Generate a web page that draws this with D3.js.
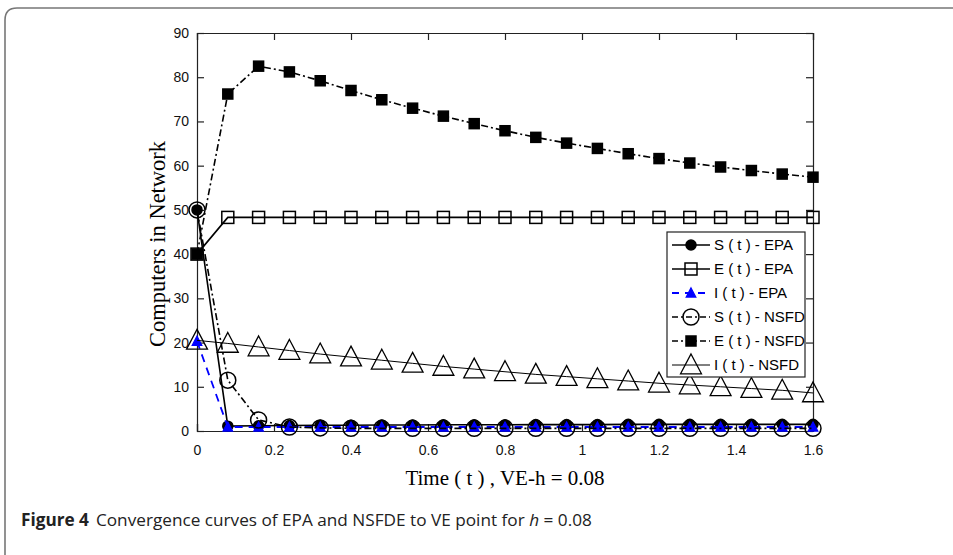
<!DOCTYPE html>
<html>
<head>
<meta charset="utf-8">
<script src="https://cdn.jsdelivr.net/npm/d3@7"></script>
<style>
  body { margin: 0; background: #fff; }
  svg { display: block; }
</style>
</head>
<body>
<svg id="chart" width="953" height="555"></svg>
<script>
'use strict';

// time steps (h = 0.08)
var times = [0, 0.08, 0.16, 0.24, 0.32, 0.40, 0.48, 0.56, 0.64, 0.72, 0.80,
             0.88, 0.96, 1.04, 1.12, 1.20, 1.28, 1.36, 1.44, 1.52, 1.60];

var sEPA  = [50, 1.1, 1.2, 1.25, 1.3, 1.3, 1.35, 1.35, 1.4, 1.4, 1.4,
             1.45, 1.45, 1.45, 1.5, 1.5, 1.5, 1.5, 1.5, 1.5, 1.5];
var eEPA  = [40, 48.3, 48.3, 48.3, 48.3, 48.3, 48.3, 48.3, 48.3, 48.3, 48.3,
             48.3, 48.3, 48.3, 48.3, 48.3, 48.3, 48.3, 48.3, 48.3, 48.3];
var iEPA  = [20.3, 0.9, 0.9, 0.9, 0.9, 0.9, 0.9, 0.9, 0.9, 0.9, 0.9,
             0.9, 0.9, 0.9, 0.9, 0.9, 0.9, 0.9, 0.9, 0.9, 0.9];
var sNSFD = [50, 11.5, 2.5, 0.9, 0.7, 0.6, 0.6, 0.6, 0.6, 0.6, 0.6,
             0.6, 0.6, 0.6, 0.6, 0.6, 0.6, 0.6, 0.6, 0.6, 0.6];
var eNSFD = [40, 76.2, 82.5, 81.2, 79.2, 77, 74.9, 73, 71.2, 69.5, 67.9,
             66.4, 65.1, 63.9, 62.7, 61.6, 60.6, 59.7, 58.9, 58.1, 57.4];
var iNSFD = [20.5, 19.8, 19.0, 18.2, 17.4, 16.7, 16.0, 15.3, 14.6, 14.0, 13.4,
             12.8, 12.3, 11.8, 11.3, 10.8, 10.4, 10.0, 9.6, 9.2, 8.6];

var xTicks = [0, 0.2, 0.4, 0.6, 0.8, 1, 1.2, 1.4, 1.6];
var yTicks = [0, 10, 20, 30, 40, 50, 60, 70, 80, 90];

var seriesNames = ['S ( t ) - EPA', 'E ( t ) - EPA', 'I ( t ) - EPA',
                   'S ( t ) - NSFD', 'E ( t ) - NSFD', 'I ( t ) - NSFD'];

(function(){

var series = [
  {name: seriesNames[0], vals: sEPA,  color: '#000', dash: null,    width: 1.6, marker: 'circle',   fill: '#000', size: 5},
  {name: seriesNames[1], vals: eEPA,  color: '#000', dash: null,    width: 1.6, marker: 'square',   fill: 'none', size: 6},
  {name: seriesNames[2], vals: iEPA,  color: '#0000ff', dash: '8,6', width: 1.8, marker: 'triangle', fill: '#0000ff', size: 5},
  {name: seriesNames[3], vals: sNSFD, color: '#000', dash: '7,3,2,3', width: 1.6, marker: 'circle', fill: 'none', size: 8},
  {name: seriesNames[4], vals: eNSFD, color: '#000', dash: '7,3,2,3', width: 1.6, marker: 'square', fill: '#000', size: 5},
  {name: seriesNames[5], vals: iNSFD, color: '#000', dash: null,    width: 1,   marker: 'triangle', fill: 'none', size: 11}
];

var svg = d3.select('#chart');

// frame round the figure
svg.append('path')
  .attr('d', 'M5,556 L5,20 Q5,8 17,8 L954,8')
  .attr('fill', 'none')
  .attr('stroke', '#777')
  .attr('stroke-width', 1.6);

var pLeft = 197, pRight = 813, pTop = 33, pBottom = 431;

var x = d3.scaleLinear().domain([0, 1.6]).range([pLeft, pRight]);
var y = d3.scaleLinear().domain([0, 90]).range([pBottom, pTop]);

var tickFont = '"Liberation Sans", Arial, sans-serif';

//Axes, MATLAB style ticks pointing inward
var gx = svg.append('g').attr('transform', 'translate(0,' + pBottom + ')')
  .call(d3.axisBottom(x).tickValues(xTicks).tickSize(-7).tickPadding(14)
    .tickFormat(function(d){ return d === 0 ? '0' : d3.format('')(d); }));
var gxTop = svg.append('g').attr('transform', 'translate(0,' + pTop + ')')
  .call(d3.axisTop(x).tickValues(xTicks).tickSize(-7).tickFormat(''));
var gy = svg.append('g').attr('transform', 'translate(' + pLeft + ',0)')
  .call(d3.axisLeft(y).tickValues(yTicks).tickSize(-7).tickPadding(8));
var gyRight = svg.append('g').attr('transform', 'translate(' + pRight + ',0)')
  .call(d3.axisRight(y).tickValues(yTicks).tickSize(-7).tickFormat(''));

[gx, gxTop, gy, gyRight].forEach(function(g){
  g.attr('font-family', tickFont).attr('font-size', 14);
  g.selectAll('.domain').attr('stroke', '#222').attr('stroke-width', 1.2);
  g.selectAll('.tick line').attr('stroke', '#222').attr('stroke-width', 1.2);
  g.selectAll('.tick text').attr('fill', '#111');
});

// axis titles
svg.append('text')
  .attr('x', 505).attr('y', 485)
  .attr('text-anchor', 'middle')
  .style('font-family', '"Liberation Serif", "Times New Roman", serif')
  .style('font-size', '21px')
  .text('Time ( t ) , VE-h = 0.08');

svg.append('text')
  .attr('transform', 'translate(165,244) rotate(-90)')
  .attr('text-anchor', 'middle')
  .style('font-family', '"Liberation Serif", "Times New Roman", serif')
  .style('font-size', '22.5px')
  .text('Computers in Network');

// marker helper
var drawMarker = function(g, kind, cx, cy, s, color, fill){
  if(kind === 'circle'){
    g.append('circle').attr('cx', cx).attr('cy', cy).attr('r', s)
      .attr('fill', fill).attr('stroke', color).attr('stroke-width', 1.5);
  } else if(kind === 'square'){
    g.append('rect').attr('x', cx - s).attr('y', cy - s)
      .attr('width', 2 * s).attr('height', 2 * s)
      .attr('fill', fill).attr('stroke', color).attr('stroke-width', 1.5);
  } else {
    g.append('path')
      .attr('d', 'M' + cx + ',' + (cy - s) + ' L' + (cx + s * 0.95) + ',' + (cy + s * 0.8) +
                 ' L' + (cx - s * 0.95) + ',' + (cy + s * 0.8) + ' Z')
      .attr('fill', fill).attr('stroke', color).attr('stroke-width', 1.3);
  }
};

var line = d3.line().x(function(d){ return x(d[0]); }).y(function(d){ return y(d[1]); });

var plot = svg.append('g');

series.forEach(function(s){
  var pts = times.map(function(t, i){ return [t, s.vals[i]]; });
  plot.append('path')
    .attr('d', line(pts))
    .attr('fill', 'none')
    .attr('stroke', s.color)
    .attr('stroke-width', s.width)
    .attr('stroke-dasharray', s.dash);
  var mg = plot.append('g');
  pts.forEach(function(p){
    drawMarker(mg, s.marker, x(p[0]), y(p[1]), s.size, s.color, s.fill);
  });
});

// legend
var lg = svg.append('g');
lg.append('rect')
  .attr('x', 667).attr('y', 232).attr('width', 138).attr('height', 145)
  .attr('fill', '#fff').attr('stroke', '#222').attr('stroke-width', 1.2);

series.forEach(function(s, i){
  var ly = 245 + i * 24;
  lg.append('line')
    .attr('x1', 672).attr('x2', 710).attr('y1', ly).attr('y2', ly)
    .attr('stroke', s.color).attr('stroke-width', s.width)
    .attr('stroke-dasharray', s.dash ? (s.color === '#000' ? '6,3,2,3' : '7,6') : null);
  drawMarker(lg, s.marker, 691, ly, s.size, s.color, s.fill);
  lg.append('text')
    .attr('x', 714).attr('y', ly + 5)
    .style('font-family', tickFont).style('font-size', '15px')
    .text(s.name);
});

// caption
var cap = svg.append('text')
  .attr('x', 21).attr('y', 526)
  .style('font-family', '"Open Sans", "Noto Sans", sans-serif')
  .style('font-size', '17.2px')
  .attr('fill', '#222');
cap.append('tspan').style('font-weight', 'bold').text('Figure 4');
cap.append('tspan').attr('dx', 7).text('Convergence curves of EPA and NSFDE to VE point for ');
cap.append('tspan').style('font-style', 'italic').text('h');
cap.append('tspan').text(' = 0.08');

})();
</script>
</body>
</html>
